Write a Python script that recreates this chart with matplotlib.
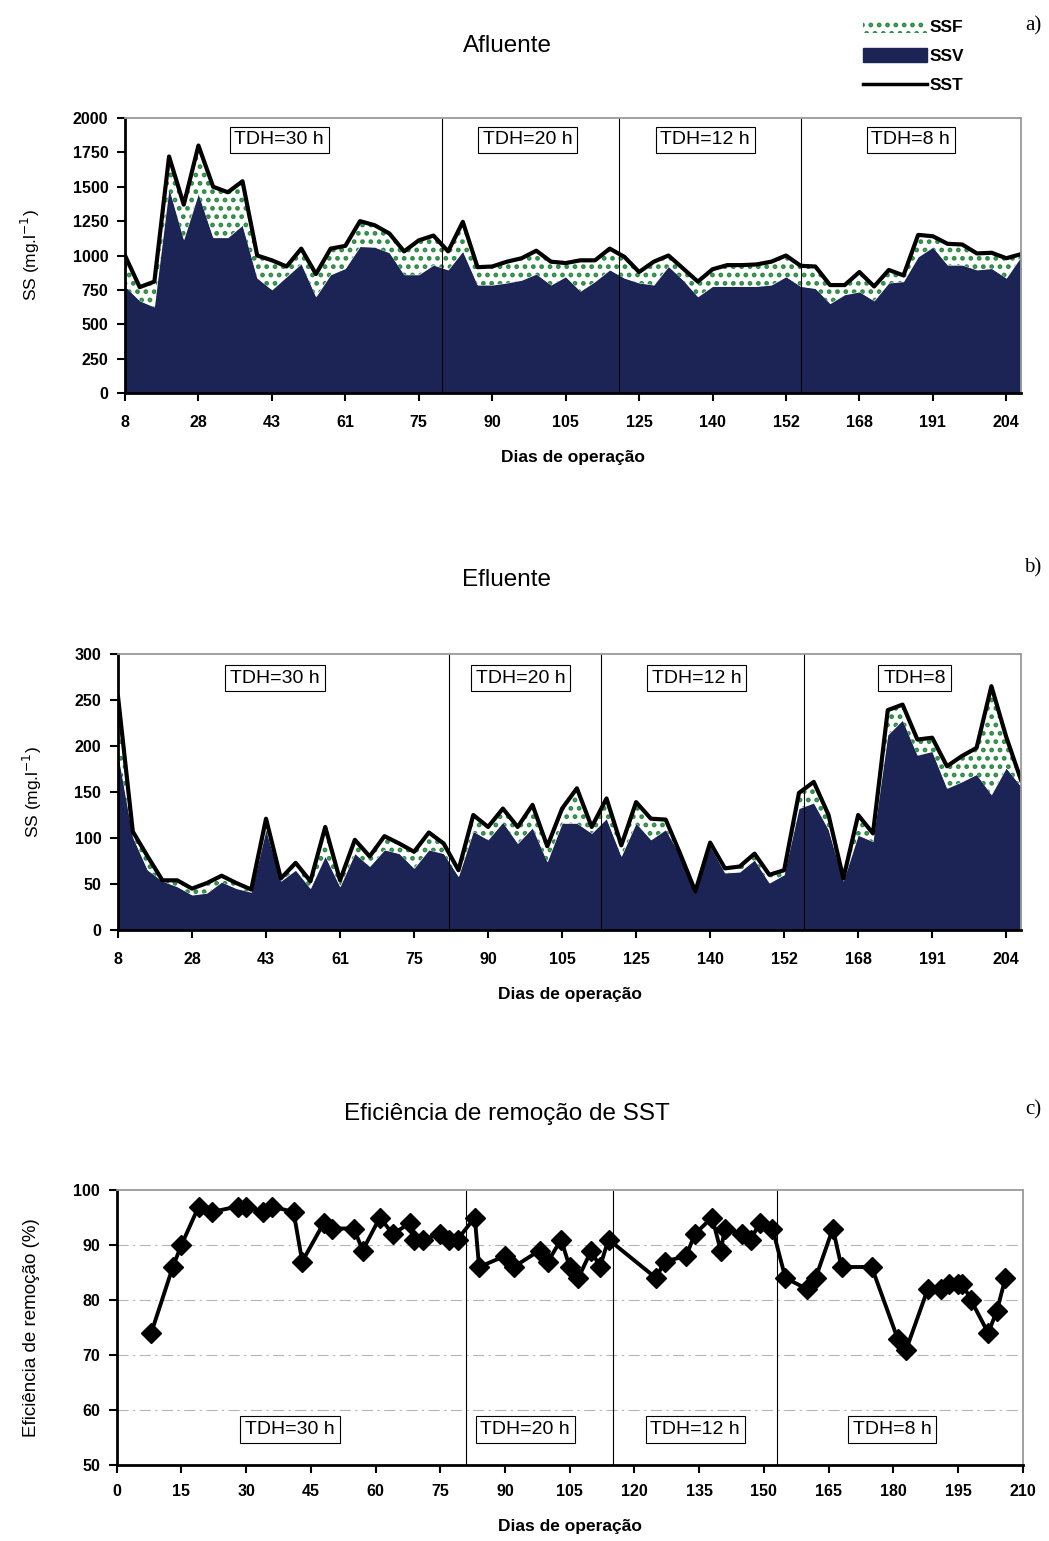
import numpy as np
import matplotlib
matplotlib.use("Agg")
import matplotlib.pyplot as plt
from matplotlib.patches import Patch
from matplotlib.lines import Line2D

plt.rcParams['font.family'] = ['Liberation Sans', 'DejaVu Sans']
plt.rcParams['hatch.linewidth'] = 2.2

# panels a/b: category axis, labels shown every 5th sample
cat_labels = ["8", "28", "43", "61", "75", "90", "105", "125", "140", "152", "168", "191", "204"]

sst_afl = [1000, 770, 810, 1720, 1370, 1800, 1500, 1460, 1540, 1000,
           965, 920, 1050, 865, 1050, 1070, 1250, 1220, 1160, 1030,
           1110, 1145, 1030, 1245, 915, 920, 955, 980, 1035, 955,
           945, 965, 965, 1050, 990, 880, 955, 1000, 905, 810,
           900, 930, 930, 935, 955, 1000, 925, 920, 785, 785,
           880, 775, 895, 855, 1150, 1140, 1085, 1080, 1015, 1020,
           980, 1010]
ssv_afl = [775, 670, 625, 1490, 1115, 1450, 1130, 1130, 1220, 835,
           750, 845, 940, 700, 860, 905, 1065, 1060, 1020, 860,
           860, 930, 895, 1030, 785, 785, 800, 820, 865, 785,
           845, 740, 810, 895, 835, 800, 785, 920, 820, 700,
           775, 775, 775, 775, 785, 845, 775, 760, 650, 715,
           735, 670, 800, 810, 990, 1060, 930, 930, 895, 905,
           835, 990]

sst_efl = [254, 107, 80, 54, 54, 45, 51, 59, 51, 44,
           121, 56, 73, 53, 112, 54, 98, 80, 102, 94,
           85, 106, 94, 65, 125, 112, 132, 112, 136, 91,
           132, 154, 112, 143, 92, 139, 121, 120, 82, 42,
           95, 67, 69, 83, 60, 65, 149, 161, 125, 56,
           125, 105, 239, 245, 207, 209, 178, 189, 198, 265,
           210, 163]
ssv_efl = [192, 101, 65, 53, 47, 38, 40, 52, 45, 41,
           109, 53, 65, 45, 80, 47, 83, 69, 87, 83,
           67, 87, 83, 58, 107, 98, 117, 94, 111, 74,
           116, 116, 105, 121, 80, 116, 98, 109, 80, 42,
           91, 62, 63, 76, 51, 60, 132, 138, 109, 53,
           103, 96, 212, 228, 190, 194, 154, 161, 169, 147,
           176, 156]

# panel c
dias = [8, 13, 15, 19, 22, 28, 30, 34, 36, 41, 43, 48, 50, 55, 57, 61, 64, 68, 69, 71,
        75, 77, 79, 83, 84, 90, 92, 98, 100, 103, 105, 107, 110, 112, 114, 125, 127, 132,
        134, 138, 140, 141, 145, 147, 149, 152, 155, 160, 162, 166, 168, 175, 181, 183,
        188, 191, 193, 195, 196, 198, 202, 204, 206]
eficiencia = [74, 86, 90, 97, 96, 97, 97, 96, 97, 96, 87, 94, 93, 93, 89, 95, 92, 94, 91, 91,
              92, 91, 91, 95, 86, 88, 86, 89, 87, 91, 86, 84, 89, 86, 91, 84, 87, 88,
              92, 95, 89, 93, 92, 91, 94, 93, 84, 82, 84, 93, 86, 86, 73, 71,
              82, 82, 83, 83, 83, 80, 74, 78, 84]

tdh_labels_a = ["TDH=30 h", "TDH=20 h", "TDH=12 h", "TDH=8 h"]
tdh_labels_b = ["TDH=30 h", "TDH=20 h", "TDH=12 h", "TDH=8"]

navy = '#1b2455'
green = '#2e8b45'


def style_axes(ax, xpad=10):
    for s in ['left', 'bottom']:
        ax.spines[s].set_linewidth(2)
        ax.spines[s].set_color('black')
    for s in ['top', 'right']:
        ax.spines[s].set_linewidth(1.3)
        ax.spines[s].set_color('#9a9a9a')
    ax.tick_params(direction='out', length=6, width=1.5)
    ax.tick_params(axis='x', pad=xpad)
    ax.tick_params(axis='y', pad=6)
    for lab in ax.get_xticklabels() + ax.get_yticklabels():
        lab.set_fontsize(11.5)
        lab.set_fontweight('bold')


def tdh_box(ax, x, y, s, tr=None):
    kw = dict(ha='center', va='center', fontsize=14,
              bbox=dict(boxstyle='square,pad=0.25', facecolor='white', edgecolor='black', lw=0.8))
    if tr is not None:
        kw['transform'] = tr
    ax.text(x, y, s, **kw)


def area_panel(ax, sst, ssv, ymax, ystep, seps, box_x, box_y, box_txt):
    x = np.arange(len(sst))
    ax.fill_between(x, 0, ssv, color=navy, lw=0)
    ax.fill_between(x, ssv, sst, facecolor='white', edgecolor=green, hatch='..', lw=0)
    ax.plot(x, sst, color='black', lw=3)
    ax.set_xlim(0, len(sst) - 1)
    ax.set_ylim(0, ymax)
    ax.set_yticks(np.arange(0, ymax + 1, ystep))
    ax.set_xticks(np.arange(0, len(sst), 5))
    ax.set_xticklabels(cat_labels)
    for s in seps:
        ax.axvline(s, color='black', lw=0.8)
    tr = ax.get_xaxis_transform()
    for bx, t in zip(box_x, box_txt):
        tdh_box(ax, bx, box_y, t, tr)
    ax.set_xlabel('Dias de operação', fontsize=12.5, fontweight='bold', labelpad=14)
    ax.set_ylabel('SS (mg.l$^{-1}$)', fontsize=12.5, labelpad=22)
    style_axes(ax)


fig = plt.figure(figsize=(10.49, 15.41), dpi=100)

ax1 = fig.add_axes([125 / 1049, 1 - 393 / 1541, 896 / 1049, 275 / 1541])
area_panel(ax1, sst_afl, ssv_afl, 2000, 250, [21.6, 33.65, 46.0],
           [10.5, 27.4, 39.5, 53.5], 0.92, tdh_labels_a)

ax2 = fig.add_axes([118 / 1049, 1 - 930 / 1541, 903 / 1049, 276 / 1541])
area_panel(ax2, sst_efl, ssv_efl, 300, 50, [22.35, 32.6, 46.35],
           [10.6, 27.2, 39.1, 53.8], 0.913, tdh_labels_b)

ax3 = fig.add_axes([116.7 / 1049, 1 - 1465 / 1541, 906 / 1049, 275 / 1541])
for v in [60, 70, 80, 90]:
    ax3.axhline(v, color='#b5b5b5', lw=0.8, ls=(0, (10, 4, 2, 4)), zorder=0)
for s in [81, 115, 153]:
    ax3.axvline(s, color='black', lw=0.8)
ax3.plot(dias, eficiencia, color='black', lw=2.8, marker='D', ms=10, mfc='black', mec='black')
ax3.set_xlim(0, 210)
ax3.set_ylim(50, 100)
ax3.set_xticks(np.arange(0, 211, 15))
ax3.set_yticks(np.arange(50, 101, 10))
for bx, t in zip([40.2, 94.7, 134.1, 179.7], tdh_labels_a):
    tdh_box(ax3, bx, 56.4, t)
ax3.set_xlabel('Dias de operação', fontsize=12.5, fontweight='bold', labelpad=14)
ax3.set_ylabel('Eficiência de remoção (%)', fontsize=13.5, labelpad=24)
style_axes(ax3, xpad=8)

# titles and panel letters
fig.text(507 / 1049, 1 - 46 / 1541, 'Afluente', ha='center', va='center', fontsize=17.5)
fig.text(507 / 1049, 1 - 580 / 1541, 'Efluente', ha='center', va='center', fontsize=17.5)
fig.text(507 / 1049, 1 - 1114 / 1541, 'Eficiência de remoção de SST', ha='center', va='center', fontsize=17.5)
for y, s in [(26, 'a)'), (568, 'b)'), (1110, 'c)')]:
    fig.text(1033 / 1049, 1 - y / 1541, s, ha='center', va='center', fontsize=15,
             family='Liberation Serif')

handles = [Patch(facecolor='white', edgecolor=green, hatch='..', lw=0),
           Patch(facecolor=navy, edgecolor=navy),
           Line2D([], [], color='black', lw=2.5)]
fig.legend(handles, ['SSF', 'SSV', 'SST'], loc='upper left',
           bbox_to_anchor=(847 / 1049, 1 - 3 / 1541), frameon=False,
           handlelength=3.7, handleheight=0.9, handletextpad=0.15, labelspacing=0.75,
           prop=dict(size=12.5, weight='bold'))

fig.savefig('out.png', dpi=100)
